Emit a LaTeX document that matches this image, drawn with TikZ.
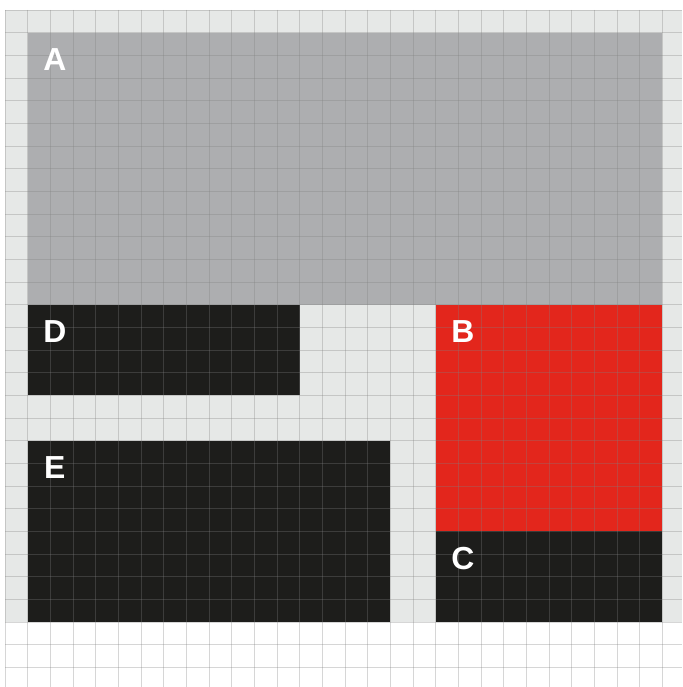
\documentclass[tikz,border=0pt]{standalone}
\usepackage{fontspec}
\setmainfont{Liberation Sans}
\definecolor{bgl}{HTML}{E6E8E7}
\definecolor{blockgray}{HTML}{ADAEB0}
\definecolor{blockblack}{HTML}{1D1D1B}
\definecolor{blockred}{HTML}{E3261C}
\tikzset{
  gridline/.style={draw=black!50, opacity=0.32, line width=1pt},
  lab/.style={text=white, font=\fontsize{40}{40}\selectfont\bfseries, inner sep=0pt, anchor=center}
}
\begin{document}
\begin{tikzpicture}[x=1cm,y=-1cm]
\useasboundingbox (-0.2206,-0.441) rectangle (29.864,29.864);
\fill[white] (-0.2206,-0.441) rectangle (29.864,29.864);
\fill[bgl] (0,0) rectangle (29.864,27);
\fill[blockgray] (1,1) rectangle (29,13);
\fill[blockblack] (1,13) rectangle (13,17);
\fill[blockblack] (1,19) rectangle (17,27);
\fill[blockred] (19,13) rectangle (29,23);
\fill[blockblack] (19,23) rectangle (29,27);
\foreach \i in {0,...,29} {
  \draw[gridline] (\i,0) -- (\i,29.864);
  \draw[gridline] (0,\i) -- (29.864,\i);
}
\node[lab] (A) at (2.2,2.2) {A};
\node[lab] (D) at (2.2,14.2) {D};
\node[lab] (B) at (20.2,14.2) {B};
\node[lab] (E) at (2.2,20.2) {E};
\node[lab] (C) at (20.2,24.2) {C};
\end{tikzpicture}
\end{document}
